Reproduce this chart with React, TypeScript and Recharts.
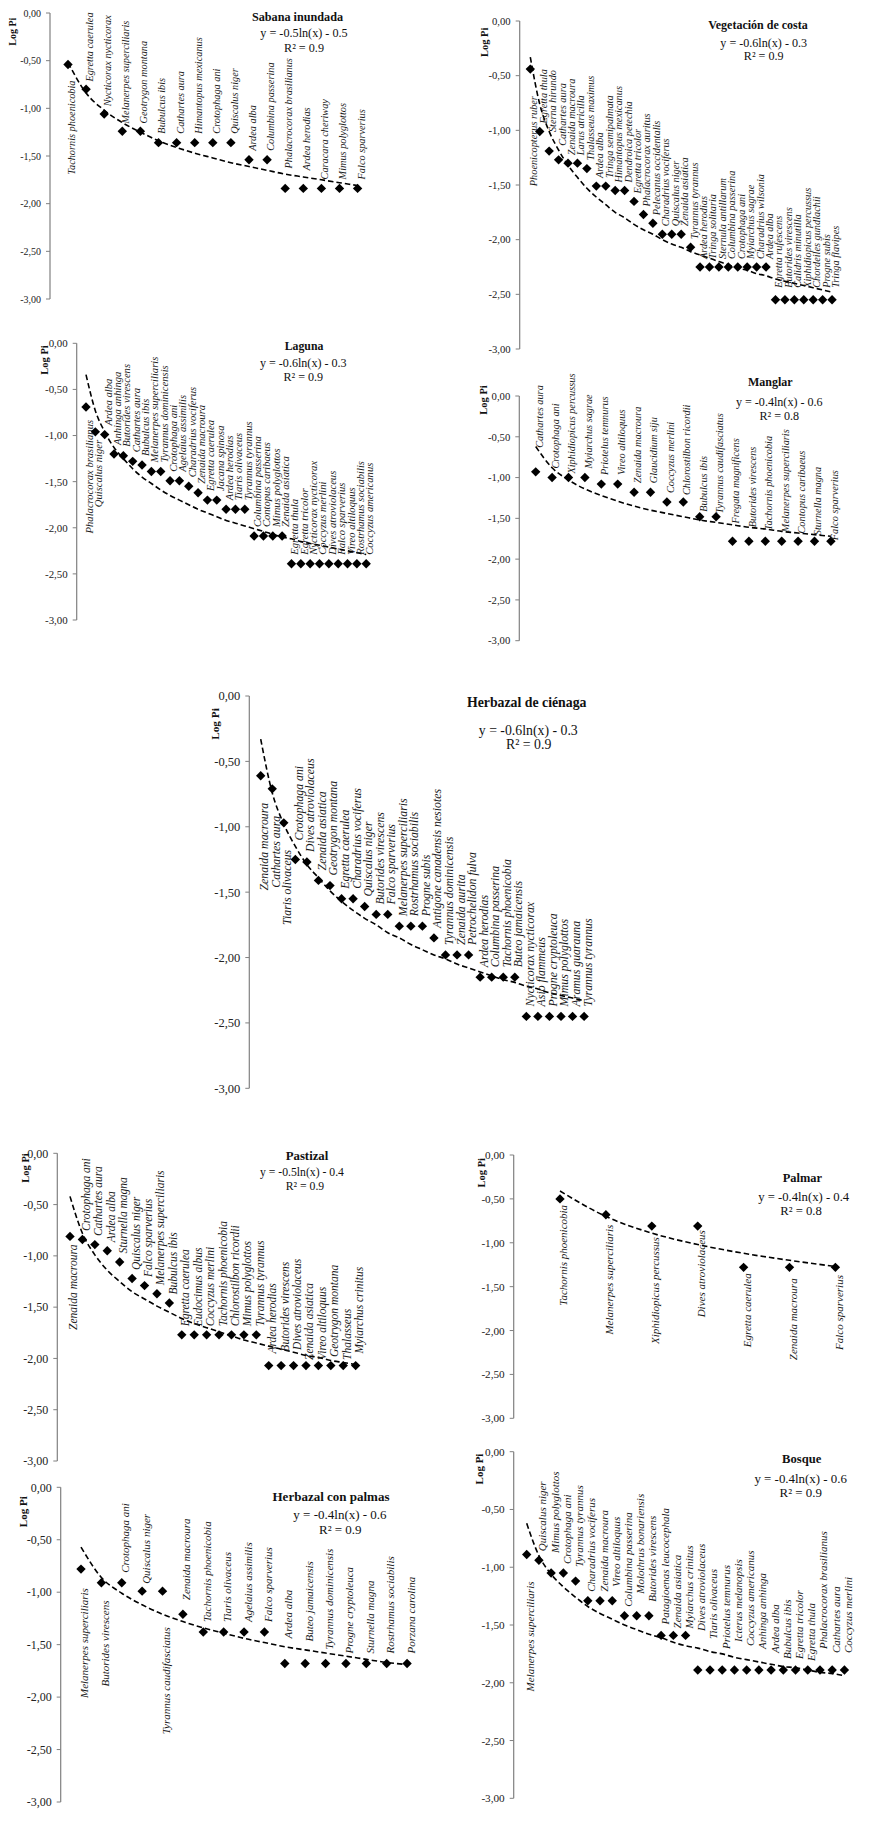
import React from 'react'
import { ComposedChart, Scatter, Line, XAxis, YAxis, Customized } from 'recharts'

// ---- Sabana inundada ----
const sabanaSpecies = ['Tachornis phoenicobia', 'Egretta caerulea', 'Nycticorax nycticorax', 'Melanerpes superciliaris', 'Geotrygon montana', 'Bubulcus ibis', 'Cathartes aura', 'Himantopus mexicanus', 'Crotophaga ani', 'Quiscalus niger', 'Ardea alba', 'Columbina passerina', 'Phalacrocorax brasilianus', 'Ardea herodias', 'Caracara cheriway', 'Mimus polyglottos', 'Falco sparverius']
const sabanaLogPi = [-0.54, -0.80, -1.06, -1.24, -1.24, -1.36, -1.36, -1.36, -1.36, -1.36, -1.54, -1.54, -1.84, -1.84, -1.84, -1.84, -1.84]
const sabanaTrend = [-0.52, -0.84, -1.02, -1.15, -1.25, -1.34, -1.41, -1.47, -1.52, -1.57, -1.61, -1.65, -1.69, -1.72, -1.75, -1.78, -1.81]

// ---- Vegetación de costa ----
const costaSpecies = ['Phoenicopterus ruber', 'Egretta thula', 'Sterna hirundo', 'Cathartes aura', 'Zenaida macroura', 'Larus atricilla', 'Thalasseus maximus', 'Ardea alba', 'Tringa semipalmata', 'Himantopus mexicanus', 'Dendroica petechia', 'Egretta tricolor', 'Phalacrocorax auritus', 'Pelecanus occidentalis', 'Charadrius vociferus', 'Quiscalus niger', 'Zenaida asiatica', 'Tyrannus tyrannus', 'Ardea herodias', 'Tringa solitaria', 'Sternula antillarum', 'Columbina passerina', 'Crotophaga ani', 'Myiarchus sagrae', 'Charadrius wilsonia', 'Ardea alba', 'Egretta rufescens', 'Butorides virescens', 'Calidris minutilla', 'Xiphidiopicus percussus', 'Chordeiles gundlachii', 'Progne subis', 'Tringa flavipes']
const costaLogPi = [-0.44, -1.01, -1.19, -1.27, -1.30, -1.30, -1.35, -1.51, -1.51, -1.55, -1.55, -1.65, -1.77, -1.85, -1.95, -1.95, -1.95, -2.07, -2.25, -2.25, -2.25, -2.25, -2.25, -2.25, -2.25, -2.25, -2.55, -2.55, -2.55, -2.55, -2.55, -2.55, -2.55]
const costaTrend = [-0.33, -0.76, -1.01, -1.18, -1.32, -1.43, -1.53, -1.61, -1.68, -1.75, -1.80, -1.86, -1.91, -1.95, -2.00, -2.04, -2.07, -2.11, -2.14, -2.17, -2.20, -2.23, -2.26, -2.28, -2.31, -2.33, -2.36, -2.38, -2.40, -2.42, -2.44, -2.46, -2.48]

// ---- Laguna ----
const lagunaSpecies = ['Phalacrocorax brasilianus', 'Quiscalus niger', 'Ardea alba', 'Anhinga anhinga', 'Butorides virescens', 'Cathartes aura', 'Bubulcus ibis', 'Melanerpes superciliaris', 'Tyrannus dominicensis', 'Crotophaga ani', 'Agelaius assimilis', 'Charadrius vociferus', 'Zenaida macroura', 'Egretta caerulea', 'Jacana spinosa', 'Ardea herodias', 'Tiaris olivaceus', 'Tyrannus tyrannus', 'Columbina passerina', 'Contopus caribaeus', 'Mimus polyglottos', 'Zenaida asiatica', 'Egretta thula', 'Egretta tricolor', 'Nycticorax nycticorax', 'Coccyzus merlini', 'Dives atroviolaceus', 'Falco sparverius', 'Vireo altiloquus', 'Rostrhamus sociabilis', 'Coccyzus americanus']
const lagunaLogPi = [-0.69, -0.96, -0.99, -1.20, -1.22, -1.28, -1.32, -1.39, -1.39, -1.49, -1.49, -1.55, -1.62, -1.70, -1.70, -1.80, -1.80, -1.80, -2.09, -2.09, -2.09, -2.09, -2.39, -2.39, -2.39, -2.39, -2.39, -2.39, -2.39, -2.39, -2.39]
const lagunaTrend = [-0.34, -0.73, -0.96, -1.13, -1.25, -1.36, -1.45, -1.52, -1.59, -1.65, -1.70, -1.75, -1.80, -1.84, -1.88, -1.92, -1.95, -1.98, -2.01, -2.04, -2.07, -2.10, -2.12, -2.15, -2.17, -2.19, -2.21, -2.23, -2.25, -2.27, -2.29]

// ---- Manglar ----
const manglarSpecies = ['Cathartes aura', 'Crotophaga ani', 'Xiphidiopicus percussus', 'Myiarchus sagrae', 'Priotelus temnurus', 'Vireo altiloquus', 'Zenaida macroura', 'Glaucidium siju', 'Coccyzus merlini', 'Chlorostilbon ricordii', 'Bubulcus ibis', 'Tyrannus caudifasciatus', 'Fregata magnificens', 'Butorides virescens', 'Tachornis phoenicobia', 'Melanerpes superciliaris', 'Contopus caribaeus', 'Sturnella magna', 'Falco sparverius']
const manglarLogPi = [-0.93, -1.00, -1.00, -1.00, -1.08, -1.08, -1.18, -1.18, -1.30, -1.30, -1.48, -1.48, -1.78, -1.78, -1.78, -1.78, -1.78, -1.78, -1.78]
const manglarTrend = [-0.62, -0.88, -1.03, -1.14, -1.22, -1.29, -1.35, -1.40, -1.44, -1.48, -1.52, -1.55, -1.58, -1.61, -1.63, -1.66, -1.68, -1.70, -1.72]

// ---- Herbazal de ciénaga ----
const cienagaSpecies = ['Zenaida macroura', 'Cathartes aura', 'Tiaris olivaceus', 'Crotophaga ani', 'Dives atroviolaceus', 'Zenaida asiatica', 'Geotrygon montana', 'Egretta caerulea', 'Charadrius vociferus', 'Quiscalus niger', 'Butorides virescens', 'Falco sparverius', 'Melanerpes superciliaris', 'Rostrhamus sociabilis', 'Progne subis', 'Antigone canadensis nesiotes', 'Tyrannus dominicensis', 'Zenaida aurita', 'Petrochelidon fulva', 'Ardea herodias', 'Columbina passerina', 'Tachornis phoenicobia', 'Buteo jamaicensis', 'Nycticorax nycticorax', 'Asio flammeus', 'Progne cryptoleuca', 'Mimus polyglottos', 'Aramus guarauna', 'Tyrannus tyrannus']
const cienagaLogPi = [-0.61, -0.71, -0.97, -1.25, -1.27, -1.41, -1.45, -1.55, -1.55, -1.61, -1.67, -1.67, -1.76, -1.76, -1.76, -1.85, -1.98, -1.98, -1.98, -2.15, -2.15, -2.15, -2.15, -2.45, -2.45, -2.45, -2.45, -2.45, -2.45]
const cienagaTrend = [-0.33, -0.74, -0.98, -1.15, -1.29, -1.39, -1.49, -1.57, -1.64, -1.70, -1.75, -1.81, -1.85, -1.90, -1.94, -1.98, -2.01, -2.05, -2.08, -2.11, -2.14, -2.17, -2.19, -2.22, -2.24, -2.27, -2.29, -2.31, -2.33]

// ---- Pastizal ----
const pastizalSpecies = ['Zenaida macroura', 'Crotophaga ani', 'Cathartes aura', 'Ardea alba', 'Sturnella magna', 'Quiscalus niger', 'Falco sparverius', 'Melanerpes superciliaris', 'Bubulcus ibis', 'Egretta caerulea', 'Eudocimus albus', 'Coccyzus merlini', 'Tachornis phoenicobia', 'Chlorostilbon ricordii', 'Mimus polyglottos', 'Tyrannus tyrannus', 'Ardea herodias', 'Butorides virescens', 'Dives atroviolaceus', 'Zenaida asiatica', 'Vireo altiloquus', 'Geotrygon montana', 'Thalasseus', 'Myiarchus crinitus']
const pastizalLogPi = [-0.81, -0.84, -0.89, -0.95, -1.06, -1.22, -1.29, -1.37, -1.46, -1.77, -1.77, -1.77, -1.77, -1.77, -1.77, -1.77, -2.07, -2.07, -2.07, -2.07, -2.07, -2.07, -2.07, -2.07]
const pastizalTrend = [-0.42, -0.78, -0.99, -1.14, -1.25, -1.35, -1.42, -1.49, -1.55, -1.61, -1.66, -1.70, -1.74, -1.78, -1.82, -1.85, -1.88, -1.91, -1.94, -1.97, -1.99, -2.02, -2.04, -2.06]

// ---- Palmar ----
const palmarSpecies = ['Tachornis phoenicobia', 'Melanerpes superciliaris', 'Xiphidiopicus percussus', 'Dives atroviolaceus', 'Egretta caerulea', 'Zenaida macroura', 'Falco sparverius']
const palmarLogPi = [-0.50, -0.68, -0.81, -0.81, -1.28, -1.28, -1.28]
const palmarTrend = [-0.41, -0.70, -0.89, -1.02, -1.12, -1.20, -1.27]

// ---- Herbazal con palmas ----
const palmasSpecies = ['Melanerpes superciliaris', 'Butorides virescens', 'Crotophaga ani', 'Quiscalus niger', 'Tyrannus caudifasciatus', 'Zenaida macroura', 'Tachornis phoenicobia', 'Tiaris olivaceus', 'Agelaius assimilis', 'Falco sparverius', 'Ardea alba', 'Buteo jamaicensis', 'Tyrannus dominicensis', 'Progne cryptoleuca', 'Sturnella magna', 'Rostrhamus sociabilis', 'Porzana carolina']
const palmasLogPi = [-0.78, -0.91, -0.91, -0.99, -0.99, -1.21, -1.38, -1.38, -1.38, -1.38, -1.68, -1.68, -1.68, -1.68, -1.68, -1.68, -1.68]
const palmasTrend = [-0.57, -0.86, -1.01, -1.12, -1.21, -1.28, -1.34, -1.39, -1.44, -1.48, -1.52, -1.55, -1.58, -1.61, -1.64, -1.67, -1.69]

// ---- Bosque ----
const bosqueSpecies = ['Melanerpes superciliaris', 'Quiscalus niger', 'Mimus polyglottos', 'Crotophaga ani', 'Tyrannus tyrannus', 'Charadrius vociferus', 'Zenaida macroura', 'Vireo altiloquus', 'Columbina passerina', 'Molothrus bonariensis', 'Butorides virescens', 'Patagioenas leucocephala', 'Zenaida asiatica', 'Myiarchus crinitus', 'Dives atroviolaceus', 'Tiaris olivaceus', 'Priotelus temnurus', 'Icterus melanopsis', 'Coccyzus americanus', 'Anhinga anhinga', 'Ardea alba', 'Bubulcus ibis', 'Egretta tricolor', 'Egretta thula', 'Phalacrocorax brasilianus', 'Cathartes aura', 'Coccyzus merlini']
const bosqueLogPi = [-0.89, -0.94, -1.05, -1.05, -1.12, -1.29, -1.29, -1.29, -1.42, -1.42, -1.42, -1.59, -1.59, -1.59, -1.89, -1.89, -1.89, -1.89, -1.89, -1.89, -1.89, -1.89, -1.89, -1.89, -1.89, -1.89, -1.89]
const bosqueTrend = [-0.62, -0.90, -1.06, -1.17, -1.26, -1.34, -1.40, -1.45, -1.50, -1.54, -1.58, -1.61, -1.65, -1.68, -1.70, -1.73, -1.75, -1.78, -1.80, -1.82, -1.84, -1.86, -1.87, -1.89, -1.91, -1.92, -1.94]

const yTicks = [0, -0.5, -1, -1.5, -2, -2.5, -3]

const FONT = '"Liberation Serif", "Times New Roman", Times, serif'
const YW = 45

// layout of each panel (page coordinates), label placement tweaks
const panels: any[] = [
  {
    title: 'Sabana inundada', eq: 'y = -0.5ln(x) - 0.5', r2: 'R² = 0.9',
    species: sabanaSpecies, logPi: sabanaLogPi, trend: sabanaTrend,
    left: 0, top: 0, width: 442, height: 310,
    axisX: 50, y0: 13, y3: 299, xFirst: 68, step: 18.1,
    labelSize: 10.3, tickSize: 10, titleSize: 12.2, eqSize: 12.2, logPiSize: 10,
    titlePos: [297.5, 16.7], eqPos: [304, 33.3], r2Pos: [304, 47.7], logPiPos: [12.3, 31.7],
    below: [1], gapAbove: 9, gapBelow: 16,
    gaps: { 2: 7.7, 3: 7.7, 4: 7.7, 5: 7.7, 13: 20, 14: 18 },
  },
  {
    title: 'Vegetación de costa', eq: 'y = -0.6ln(x) - 0.3', r2: 'R² = 0.9',
    species: costaSpecies, logPi: costaLogPi, trend: costaTrend,
    left: 442, top: 0, width: 442, height: 360,
    axisX: 519.7, y0: 21, y3: 349, xFirst: 530.3, step: 9.43,
    labelSize: 10.3, tickSize: 10.7, titleSize: 12, eqSize: 12.1, logPiSize: 10.5,
    titlePos: [758, 25], eqPos: [763.7, 42.7], r2Pos: [763.7, 56], logPiPos: [484.7, 42.3],
    below: [1], gapAbove: 8, gapBelow: 27,
    gaps: { 3: 19, 4: 14, 27: 12, 28: 12, 29: 12, 30: 12, 31: 12, 32: 12, 33: 12 },
  },
  {
    title: 'Laguna', eq: 'y = -0.6ln(x) - 0.3', r2: 'R² = 0.9',
    species: lagunaSpecies, logPi: lagunaLogPi, trend: lagunaTrend,
    left: 0, top: 320, width: 442, height: 310,
    axisX: 76.7, y0: 343.3, y3: 620, xFirst: 86, step: 9.34,
    labelSize: 10.6, tickSize: 10.9, titleSize: 11.8, eqSize: 12.1, logPiSize: 10.5,
    titlePos: [304, 346], eqPos: [303.3, 362.7], r2Pos: [303.3, 376.7], logPiPos: [44, 360],
    below: [1, 2], gapAbove: 9, gapBelow: 11,
    gaps: { 1: 13, 2: 8 },
  },
  {
    title: 'Manglar', eq: 'y = -0.4ln(x) - 0.6', r2: 'R² = 0.8',
    species: manglarSpecies, logPi: manglarLogPi, trend: manglarTrend,
    left: 442, top: 370, width: 442, height: 280,
    axisX: 519.3, y0: 396, y3: 640.7, xFirst: 535.7, step: 16.4,
    labelSize: 10.3, tickSize: 10.7, titleSize: 12, eqSize: 12.1, logPiSize: 10.5,
    titlePos: [770.3, 381.7], eqPos: [779.3, 401.7], r2Pos: [779.3, 415.7], logPiPos: [483.7, 400],
    below: [], gapAbove: 9, gapBelow: 9,
    gaps: { 1: 24, 3: 4, 10: 7, 11: 5, 12: 3.3, 13: 17.7, 14: 14, 15: 11, 17: 7.7, 18: 6, 19: 1 },
  },
  {
    title: 'Herbazal de ciénaga', eq: 'y = -0.6ln(x) - 0.3', r2: 'R² = 0.9',
    species: cienagaSpecies, logPi: cienagaLogPi, trend: cienagaTrend,
    left: 150, top: 680, width: 600, height: 420,
    axisX: 249.3, y0: 696, y3: 1088.3, xFirst: 260.7, step: 11.55,
    labelSize: 11.8, tickSize: 12.5, titleSize: 13.8, eqSize: 13.8, logPiSize: 11.3,
    titlePos: [526.7, 702.7], eqPos: [528.3, 730], r2Pos: [528.7, 744], logPiPos: [215, 724],
    below: [1, 2, 3], gapAbove: 10, gapBelow: 27,
    gaps: { 4: 19 },
  },
  {
    title: 'Pastizal', eq: 'y = -0.5ln(x) - 0.4', r2: 'R² = 0.9',
    species: pastizalSpecies, logPi: pastizalLogPi, trend: pastizalTrend,
    left: 0, top: 1140, width: 442, height: 330,
    axisX: 57.3, y0: 1153.3, y3: 1461, xFirst: 70, step: 12.42,
    labelSize: 11.5, tickSize: 12, titleSize: 12.8, eqSize: 11.7, logPiSize: 10.5,
    titlePos: [307, 1156], eqPos: [302, 1172.7], r2Pos: [305, 1186.7], logPiPos: [25, 1168],
    below: [1], gapAbove: 8.5, gapBelow: 8,
    gaps: { 17: 12, 18: 14, 19: 15.7, 20: 5.7, 21: 5.7, 23: 5.7, 24: 12 },
  },
  {
    title: 'Palmar', eq: 'y = -0.4ln(x) - 0.4', r2: 'R² = 0.8',
    species: palmarSpecies, logPi: palmarLogPi, trend: palmarTrend,
    left: 442, top: 1140, width: 442, height: 290,
    axisX: 513.7, y0: 1155, y3: 1418.3, xFirst: 560, step: 45.9,
    labelSize: 11, tickSize: 11.2, titleSize: 12.4, eqSize: 12.7, logPiSize: 10.5,
    titlePos: [802.3, 1178.3], eqPos: [803.7, 1196.7], r2Pos: [801, 1211], logPiPos: [481.3, 1172.7],
    below: [1, 2, 3, 4, 5, 6, 7], gapAbove: 8, gapBelow: 8,
    gaps: { 1: 6, 2: 10, 3: 11, 4: 4, 5: 6, 6: 11, 7: 7.7 },
  },
  {
    title: 'Herbazal con palmas', eq: 'y = -0.4ln(x) - 0.6', r2: 'R² = 0.9',
    species: palmasSpecies, logPi: palmasLogPi, trend: palmasTrend,
    left: 0, top: 1475, width: 442, height: 340,
    axisX: 60.7, y0: 1487.3, y3: 1802, xFirst: 81, step: 20.38,
    labelSize: 11, tickSize: 12, titleSize: 13, eqSize: 13, logPiSize: 11,
    titlePos: [331, 1496.7], eqPos: [340, 1514.3], r2Pos: [340.3, 1529], logPiPos: [22.7, 1511.7],
    below: [1, 2, 5], gapAbove: 10, gapBelow: 18,
    gaps: { 1: 19, 2: 17.7, 4: 7.3, 5: 36, 6: 14, 11: 25, 12: 22, 13: 14 },
  },
  {
    title: 'Bosque', eq: 'y = -0.4ln(x) - 0.6', r2: 'R² = 0.9',
    species: bosqueSpecies, logPi: bosqueLogPi, trend: bosqueTrend,
    left: 442, top: 1440, width: 442, height: 370,
    axisX: 513.7, y0: 1451.7, y3: 1798.3, xFirst: 526.7, step: 12.22,
    labelSize: 11, tickSize: 11.2, titleSize: 12.6, eqSize: 12.9, logPiSize: 11,
    titlePos: [801.7, 1459.3], eqPos: [800.7, 1479], r2Pos: [800.7, 1492.7], logPiPos: [479.3, 1469],
    below: [1], gapAbove: 9, gapBelow: 27,
    gaps: { 3: 20, 5: 14, 8: 14, 10: 22, 11: 14, 12: 11, 13: 7, 14: 7, 15: 39, 16: 31, 17: 21, 18: 28, 19: 24, 20: 21, 21: 17, 22: 11, 23: 11, 25: 21, 26: 17, 27: 17 },
  },
]

const fmtTick = (v: number) => v.toFixed(2).replace('.', ',')

function PanelText({ p }: any) {
  const ox = p.left
  const oy = p.top
  const [lx, ly] = p.logPiPos
  return (
    <g fontFamily={FONT} fill="#111">
      <text x={p.titlePos[0] - ox} y={p.titlePos[1] - oy} textAnchor="middle" dominantBaseline="central" fontWeight="bold" fontSize={p.titleSize}>
        {p.title}
      </text>
      <text x={p.eqPos[0] - ox} y={p.eqPos[1] - oy} textAnchor="middle" dominantBaseline="central" fontSize={p.eqSize}>
        {p.eq}
      </text>
      <text x={p.r2Pos[0] - ox} y={p.r2Pos[1] - oy} textAnchor="middle" dominantBaseline="central" fontSize={p.eqSize}>
        {p.r2}
      </text>
      <text
        x={lx - ox}
        y={ly - oy}
        transform={`rotate(-90 ${lx - ox} ${ly - oy})`}
        textAnchor="middle"
        dominantBaseline="central"
        fontWeight="bold"
        fontSize={p.logPiSize}
      >
        Log Pi
      </text>
    </g>
  )
}

function Panel({ p }: any) {
  const n = p.species.length
  const data = p.species.map((name: string, i: number) => ({ x: i + 1, name, v: p.logPi[i], t: p.trend[i] }))

  // x domain chosen so that index 1 lands on the first diamond and spacing matches
  const d0 = 1 - (p.xFirst - p.axisX) / p.step
  const d1 = n + 0.6
  const plotW = (d1 - d0) * p.step
  const margin = {
    top: p.y0 - p.top,
    bottom: p.top + p.height - p.y3,
    left: p.axisX - p.left - YW,
    right: p.left + p.width - p.axisX - plotW,
  }

  const renderPoint = (props: any) => {
    const { cx, cy, payload } = props
    if (cx == null || cy == null) return <g />
    const r = 4.7
    const isBelow = p.below.includes(payload.x)
    const gap = p.gaps[payload.x] ?? (isBelow ? p.gapBelow : p.gapAbove)
    const tx = cx + 3.5
    const ty = isBelow ? cy + gap : cy - gap
    return (
      <g>
        <path d={`M${cx},${cy - r}L${cx + r},${cy}L${cx},${cy + r}L${cx - r},${cy}Z`} fill="#000" />
        <text
          x={tx}
          y={ty}
          transform={`rotate(-90 ${tx} ${ty})`}
          textAnchor={isBelow ? 'end' : 'start'}
          dominantBaseline="central"
          fontFamily={FONT}
          fontStyle="italic"
          fontSize={p.labelSize}
          fill="#1a1a1a"
        >
          {payload.name}
        </text>
      </g>
    )
  }

  return (
    <div style={{ position: 'absolute', left: p.left, top: p.top, width: p.width, height: p.height }}>
      <ComposedChart width={p.width} height={p.height} data={data} margin={margin}>
        <XAxis type="number" dataKey="x" domain={[d0, d1]} hide />
        <YAxis
          type="number"
          domain={[-3, 0]}
          ticks={yTicks}
          interval={0}
          width={YW}
          tickSize={4}
          tickMargin={5}
          axisLine={{ stroke: '#808080', strokeWidth: 1.2 }}
          tickLine={{ stroke: '#808080', strokeWidth: 1 }}
          tick={{ fontFamily: FONT, fontSize: p.tickSize, fill: '#222' }}
          tickFormatter={fmtTick}
        />
        <Line
          dataKey="t"
          type="monotone"
          stroke="#000"
          strokeWidth={1.6}
          strokeDasharray="5.5 3"
          dot={false}
          activeDot={false}
          isAnimationActive={false}
        />
        <Scatter dataKey="v" shape={renderPoint} isAnimationActive={false} />
        <Customized component={() => <PanelText p={p} />} />
      </ComposedChart>
    </div>
  )
}

export default function App() {
  return (
    <div style={{ position: 'absolute', left: 0, top: 0, width: 884, height: 1843, background: '#fff' }}>
      <style>{'.recharts-surface{overflow:visible}'}</style>
      {panels.map((p, i) => (
        <Panel key={i} p={p} />
      ))}
    </div>
  )
}
